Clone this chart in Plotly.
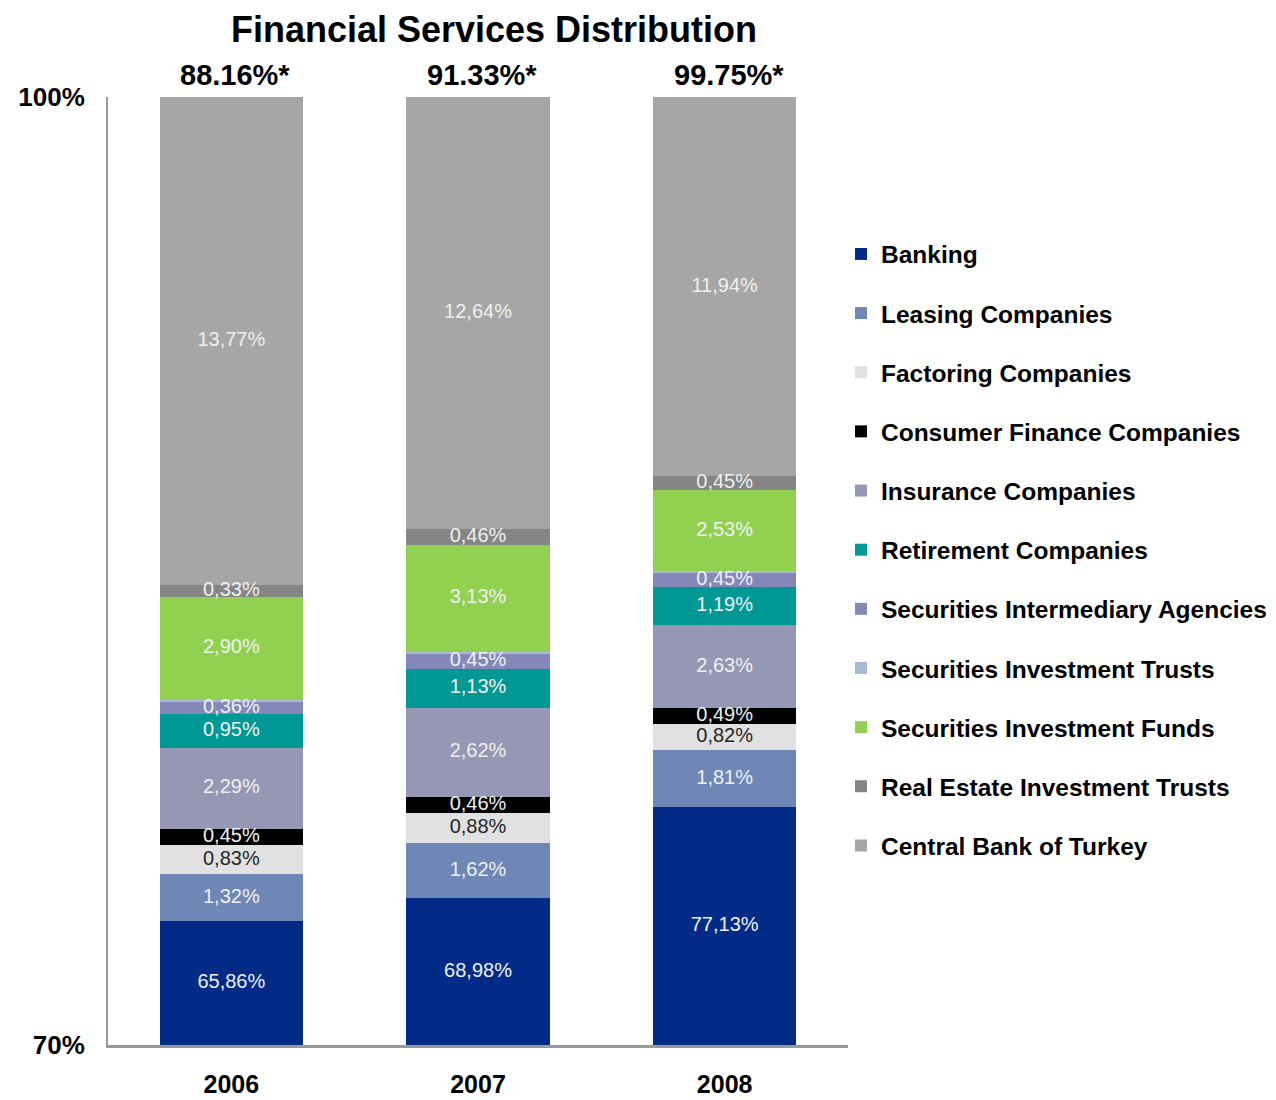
import plotly.graph_objects as go

# ---------------- data ----------------
categories = ["2006", "2007", "2008"]
total_labels = ["88.16%*", "91.33%*", "99.75%*"]

series_names = [
    "Banking",
    "Leasing Companies",
    "Factoring Companies",
    "Consumer Finance Companies",
    "Insurance Companies",
    "Retirement Companies",
    "Securities Intermediary Agencies",
    "Securities Investment Trusts",
    "Securities Investment Funds",
    "Real Estate Investment Trusts",
    "Central Bank of Turkey",
]

banking = [65.86, 68.98, 77.13]
leasing = [1.32, 1.62, 1.81]
factoring = [0.83, 0.88, 0.82]
consumer_finance = [0.45, 0.46, 0.49]
insurance = [2.29, 2.62, 2.63]
retirement = [0.95, 1.13, 1.19]
sec_intermediary = [0.36, 0.45, 0.45]
sec_inv_trusts = [0.04, 0.05, 0.06]
sec_inv_funds = [2.90, 3.13, 2.53]
reit = [0.33, 0.46, 0.45]
central_bank = [13.77, 12.64, 11.94]

series_values = [banking, leasing, factoring, consumer_finance, insurance,
                 retirement, sec_intermediary, sec_inv_trusts, sec_inv_funds,
                 reit, central_bank]
show_label = [True, True, True, True, True, True, True, False, True, True, True]

colors = ["#012B87", "#6E87B7", "#E1E1E1", "#000000", "#9597B4", "#009894",
          "#8388B9", "#AAB6DA", "#92D050", "#858585", "#A6A6A6"]
label_colors = ["#F0F0F0", "#F0F0F0", "#262626", "#F0F0F0", "#F0F0F0", "#F0F0F0",
                "#F0F0F0", "#F0F0F0", "#F0F0F0", "#F0F0F0", "#F0F0F0"]

Y_MIN, Y_MAX = 70, 100
FONT = "Liberation Sans, Arial, sans-serif"

# page offset (body margin) compensation
OFF = 8
W, H = 1276 - OFF, 1100 - OFF

fig = go.Figure()

for i, (name, vals) in enumerate(zip(series_names, series_values)):
    fig.add_trace(go.Bar(
        x=categories, y=vals, name=name,
        marker=dict(color=colors[i], line=dict(width=0)),
        legendgroup=name,
        hoverinfo="name+y",
    ))

# segment labels placed at the middle of the visible part of each segment
totals = [sum(s[j] for s in series_values) for j in range(len(categories))]
lx, ly, lt, lc = [], [], [], []
for j, cat in enumerate(categories):
    cum = 0.0
    for i, vals in enumerate(series_values):
        lo = cum
        hi = cum + vals[j] / totals[j] * 100
        cum = hi
        if not show_label[i]:
            continue
        vlo = max(lo, Y_MIN)
        vhi = min(hi, Y_MAX)
        lx.append(cat)
        ly.append((vlo + vhi) / 2)
        lt.append(f"{vals[j]:.2f}".replace(".", ",") + "%")
        lc.append(label_colors[i])

fig.add_trace(go.Scatter(
    x=lx, y=ly, text=lt, mode="text",
    textfont=dict(family=FONT, size=20, color=lc),
    showlegend=False, hoverinfo="skip",
))

for j, lab in enumerate(total_labels):
    fig.add_annotation(
        x=j, y=Y_MAX, xref="x", yref="y", text=lab, showarrow=False,
        yanchor="bottom", yshift=4, xshift=4,
        font=dict(family=FONT, size=29, color="#000000", weight="bold"),
    )

fig.update_layout(
    width=W, height=H,
    barmode="stack", barnorm="percent", bargap=0.42,
    paper_bgcolor="white", plot_bgcolor="white",
    margin=dict(l=108 - OFF, r=W - (108 - OFF) - 740, t=97 - OFF,
                b=H - (97 - OFF) - 948, autoexpand=False),
    title=dict(
        text="Financial Services Distribution",
        x=(494 - OFF) / W, xanchor="center", xref="container",
        y=1 - (29.5 - OFF) / H, yanchor="middle", yref="container",
        font=dict(family=FONT, size=36, color="#000000", weight="bold"),
    ),
    xaxis=dict(
        type="category", range=[-0.5, len(categories) - 0.5],
        showline=True, linecolor="#999999", linewidth=3,
        showgrid=False, ticks="", zeroline=False,
        tickfont=dict(family=FONT, size=25, color="#000000", weight="bold"),
        ticklabelstandoff=15,
    ),
    yaxis=dict(
        range=[Y_MIN, Y_MAX], showline=True, linecolor="#999999", linewidth=2,
        showgrid=False, zeroline=False, ticks="",
        tickvals=[70, 100], ticktext=["70%", "100%"],
        tickfont=dict(family=FONT, size=26, color="#000000", weight="bold"),
        ticklabelstandoff=16,
    ),
    legend=dict(
        x=(841 - 108) / 740, xanchor="left",
        y=1 - (231.5 - 97) / 948, yanchor="top",
        traceorder="grouped", tracegroupgap=24.3,
        font=dict(family=FONT, size=24.5, color="#000000", weight="bold"),
        bgcolor="rgba(0,0,0,0)",
    ),
    showlegend=True,
)

fig.write_html("out.html")
